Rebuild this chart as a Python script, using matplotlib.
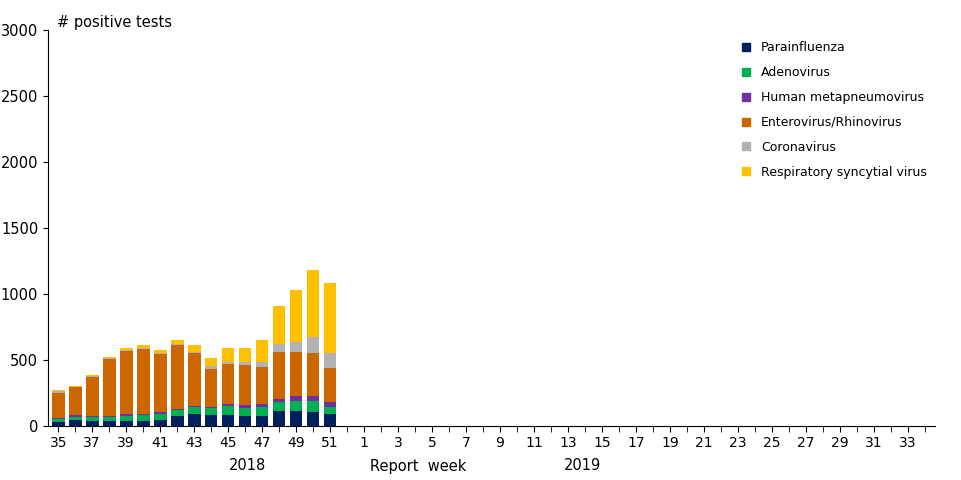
import matplotlib
matplotlib.use("Agg")
import matplotlib.pyplot as plt
import numpy as np

weeks = [str(w) for w in list(range(35, 53)) + list(range(1, 35))]
# cumulative tops, converted to per-series values below
para = [30, 45, 38, 38, 38, 38, 45, 76, 91, 83, 83, 76, 76, 114, 114, 106, 91]
adeno_c = [55, 70, 68, 68, 78, 86, 93, 121, 144, 136, 154, 139, 146, 182, 192, 192, 146]
hmpv_c = [58, 80, 75, 73, 88, 93, 104, 131, 154, 146, 169, 162, 169, 207, 227, 227, 182]
entero_c = [252, 293, 374, 510, 571, 583, 548, 614, 555, 434, 470, 462, 449, 561, 561, 553, 442]
corona_c = [265, 298, 381, 515, 578, 588, 553, 619, 561, 454, 487, 485, 485, 621, 636, 674, 553]
rsv_c = [270, 300, 389, 525, 591, 614, 578, 651, 614, 518, 591, 591, 651, 909, 1030, 1182, 1083]

cum = [para, adeno_c, hmpv_c, entero_c, corona_c, rsv_c]
names = ["Parainfluenza", "Adenovirus", "Human metapneumovirus",
         "Enterovirus/Rhinovirus", "Coronavirus", "Respiratory syncytial virus"]
colors = ["#002060", "#00B050", "#7030A0", "#CC6600", "#B2B2B2", "#FFC000"]

fig = plt.figure(figsize=(9.62, 4.8), dpi=100)
ax = fig.add_axes([48/962, 1-426/480, (935-48)/962, (426-30)/480])
x = np.arange(len(weeks))
n = len(para)
prev = np.zeros(n)
for c, name, col in zip(cum, names, colors):
    c = np.array(c, float)
    ax.bar(x[:n], c - prev, bottom=prev, width=0.75, color=col, label=name)
    prev = c

ax.set_xlim(-0.6, len(weeks) - 0.4)
ax.set_ylim(0, 3000)
ax.set_yticks(range(0, 3001, 500))
ax.set_xticks(x[::2])
ax.set_xticklabels(weeks[::2])
ax.set_xticks(x, minor=True)
ax.tick_params(axis="x", which="both", length=4, labelsize=10)
ax.tick_params(axis="y", labelsize=10.5)
for s in ["top", "right"]:
    ax.spines[s].set_visible(False)
ax.text(0.01, 1.0, "# positive tests", transform=ax.transAxes, fontsize=10.5, va="bottom")
fig.text(248/962, 1-466/480, "2018", ha="center", va="center", fontsize=10.5)
fig.text(418/962, 1-466/480, "Report  week", ha="center", va="center", fontsize=10.5)
fig.text(583/962, 1-466/480, "2019", ha="center", va="center", fontsize=10.5)

from matplotlib.lines import Line2D
handles = [Line2D([], [], marker="s", ls="", color=col, markersize=6) for col in colors]
ax.legend(handles, names, loc="upper left", bbox_to_anchor=(0.76, 1.0), frameon=False,
          fontsize=9, handletextpad=0.2, labelspacing=0.95)
fig.savefig("out.png", dpi=100)
